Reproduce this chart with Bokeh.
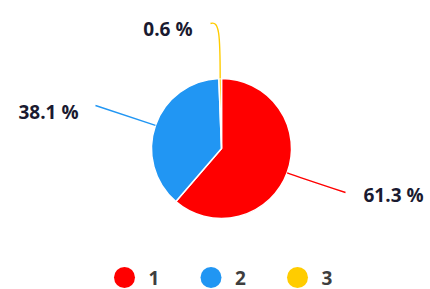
import numpy as np
from bokeh.plotting import figure
from bokeh.models import ColumnDataSource
from bokeh.core.properties import value
from bokeh.embed import file_html
from bokeh.resources import INLINE

# ---- data ----
categories = ["1", "2", "3"]
shares = [61.3, 38.1, 0.6]
colors = ["#FF0000", "#2196F3", "#FFCC00"]

# ---- layout ----
W, H = 430, 289
def py(y):
    return H - y

cx, cy, R = 221, py(148), 70

p = figure(width=W, height=H, x_range=(0, W), y_range=(0, H),
           output_backend="svg", toolbar_location=None, min_border=0)
p.axis.visible = False
p.grid.visible = False
p.outline_line_color = None
p.background_fill_color = "white"

vals = np.array(shares, dtype=float)
frac = vals / vals.sum()
cum = np.concatenate([[0], np.cumsum(frac)])
start = np.pi / 2 - 2 * np.pi * cum[:-1]
end = np.pi / 2 - 2 * np.pi * cum[1:]
mid = (start + end) / 2

src = ColumnDataSource(dict(start=start, end=end, color=colors, cat=categories))
p.wedge(x=cx, y=cy, radius=R, start_angle="start", end_angle="end",
        direction="clock", fill_color="color", line_color="white",
        line_width=1.5, source=src)

# leader lines and labels (layout constants)
line_ends = [(345, py(192)), (95, py(105)), (210, py(23))]
text_pos = [(363, py(194)), (78, py(111)), (192, py(28))]
align = ["left", "right", "right"]
for i in range(len(shares)):
    a = mid[i]
    x0, y0 = cx + R * np.cos(a), cy + R * np.sin(a)
    x1, y1 = line_ends[i]
    if i == 2:
        c0 = (x0, y0 + 45)
        c1 = (x0 - 1, y1 + 3)
    else:
        c0 = (cx + (R + 12) * np.cos(a), cy + (R + 12) * np.sin(a))
        c1 = ((c0[0] + x1) / 2, (c0[1] + y1) / 2)
    p.bezier(x0=[x0], y0=[y0], x1=[x1], y1=[y1], cx0=[c0[0]], cy0=[c0[1]],
             cx1=[c1[0]], cy1=[c1[1]], line_color=colors[i], line_width=1.4)
    tx, ty = text_pos[i]
    p.text(x=[tx], y=[ty], text=[f"{shares[i]} %"], text_align=align[i],
           text_baseline="middle", text_font=value("Open Sans"),
           text_font_style="bold", text_font_size="19px", text_color="#1a1a30")

# legend
lx0, lstep, ly = 124, 86.5, py(277)
lxs = [lx0 + i * lstep for i in range(len(categories))]
p.scatter(x=lxs, y=[ly] * 3, size=21, marker="circle", fill_color=colors,
          line_color=None)
p.text(x=[x + 24 for x in lxs], y=[ly] * 3, text=categories, text_align="left",
       text_baseline="middle", text_font=value("Open Sans"), text_font_style="bold",
       text_font_size="19px", text_color="#3e3e3e")

open("out.html", "w").write(file_html(p, INLINE))
